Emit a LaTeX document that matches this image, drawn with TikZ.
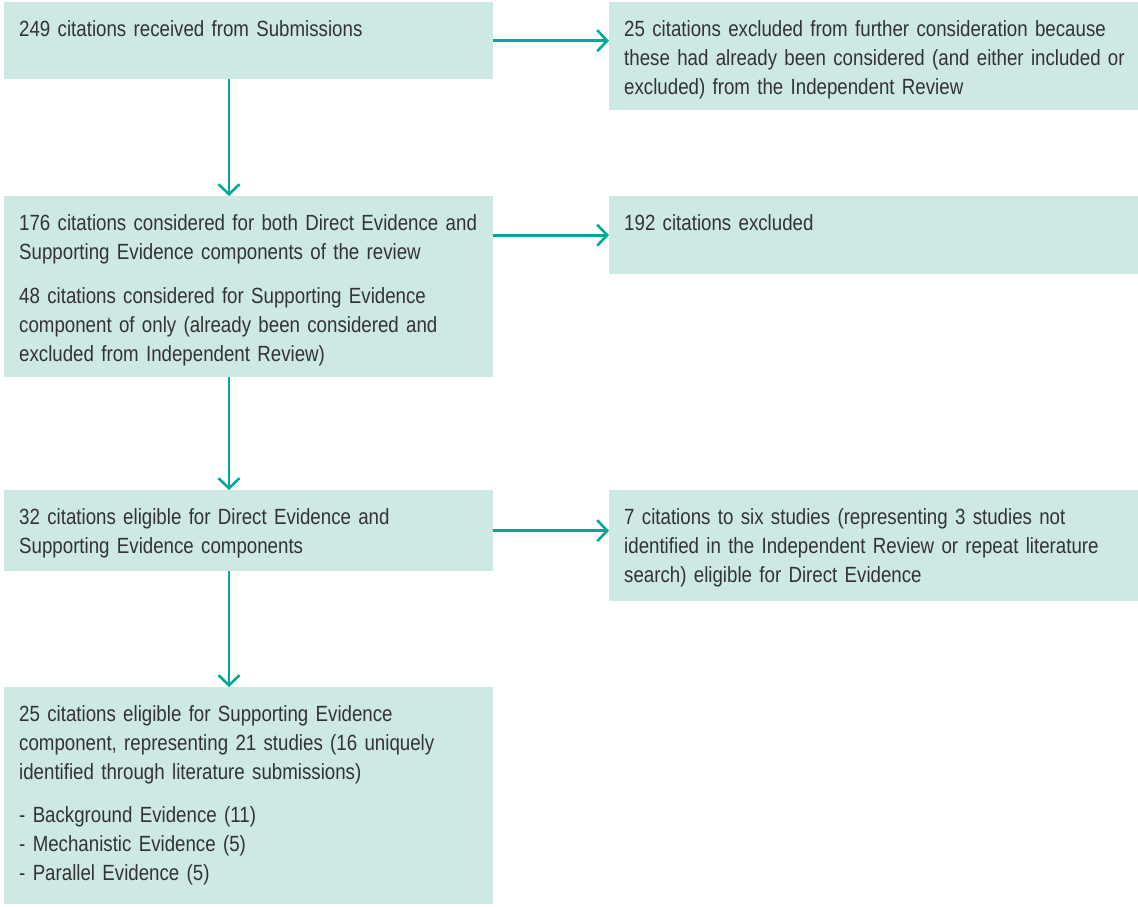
\documentclass[tikz,border=0pt]{standalone}
\usepackage{fontspec}
\setmainfont[FakeStretch=0.85, WordSpace=0.85]{Liberation Sans}
\usetikzlibrary{arrows.meta,calc}

\definecolor{boxfill}{HTML}{CEE8E4}
\definecolor{flowteal}{HTML}{00A99A}
\definecolor{txtgray}{HTML}{333333}

\tikzset{
  stage/.style = {fill = boxfill, draw = none, anchor = north west, inner sep = 0pt},
  stagetxt/.style = {anchor = north west, inner sep = 0pt, align = left, text width = #1,
    text = txtgray, font = \fontsize{22}{29}\selectfont,
    execute at begin node = \strut},
  stagetxt/.default = 470pt,
  flow/.style = {draw = flowteal, line width = 2.6pt,
    -{Straight Barb[length = 10pt, width = 21pt, line width = 2.6pt]}}
}

\begin{document}
\begin{tikzpicture}[x = 1pt, y = -1pt]
\useasboundingbox (0,0) rectangle (1138,906);

% left column
\node [stage, minimum width = 489pt, minimum height = 77pt] (sub) at (4,2) {};
\node [stage, minimum width = 489pt, minimum height = 181pt] (cons) at (4,196) {};
\node [stage, minimum width = 489pt, minimum height = 81pt] (elig) at (4,490) {};
\node [stage, minimum width = 489pt, minimum height = 217pt] (supp) at (4,687) {};

% right column
\node [stage, minimum width = 529pt, minimum height = 108pt] (excl1) at (609,2) {};
\node [stage, minimum width = 529pt, minimum height = 78pt] (excl2) at (609,196) {};
\node [stage, minimum width = 529pt, minimum height = 111pt] (direct) at (609,490) {};

% texts
\node [stagetxt] (subT) at ($(sub.north west)+(15,13.5)$) {249 citations received from Submissions};
\node [stagetxt] (consT) at ($(cons.north west)+(15,13.5)$) {176 citations considered for both Direct Evidence and\\
Supporting Evidence components of the review\\[15pt]
48 citations considered for Supporting Evidence\\
component of only (already been considered and\\
excluded from Independent Review)};
\node [stagetxt] (eligT) at ($(elig.north west)+(15,13.5)$) {32 citations eligible for Direct Evidence and\\
Supporting Evidence components};
\node [stagetxt] (suppT) at ($(supp.north west)+(15,13.5)$) {25 citations eligible for Supporting Evidence\\
component, representing 21 studies (16 uniquely\\
identified through literature submissions)\\[14pt]
- Background Evidence (11)\\
- Mechanistic Evidence (5)\\
- Parallel Evidence (5)};
\node [stagetxt = 515pt] (excl1T) at ($(excl1.north west)+(15,13.5)$) {25 citations excluded from further consideration because\\
these had already been considered (and either included or\\
excluded) from the Independent Review};
\node [stagetxt = 515pt] (excl2T) at ($(excl2.north west)+(15,13.5)$) {192 citations excluded};
\node [stagetxt = 515pt] (directT) at ($(direct.north west)+(15,13.5)$) {7 citations to six studies (representing 3 studies not\\
identified in the Independent Review or repeat literature\\
search) eligible for Direct Evidence};

% arrows down
\draw [flow] ($(sub.south west)+(225,0)$) -- ($(cons.north west)+(225,0)$);
\draw [flow] ($(cons.south west)+(225,0)$) -- ($(elig.north west)+(225,0)$);
\draw [flow] ($(elig.south west)+(225,0)$) -- ($(supp.north west)+(225,0)$);

% arrows across
\draw [flow] (sub.east) -- (sub.east -| excl1.west);
\draw [flow] (excl2.west -| cons.east) -- (excl2.west);
\draw [flow] (elig.east) -- (elig.east -| direct.west);
\end{tikzpicture}
\end{document}
